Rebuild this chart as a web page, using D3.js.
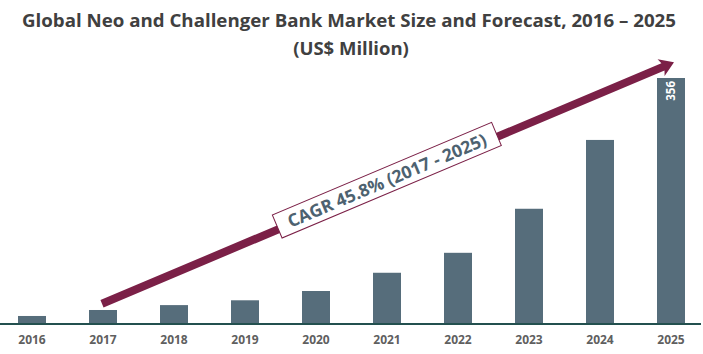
<!DOCTYPE html>
<html>
<head>
<meta charset="utf-8">
<script src="https://cdn.jsdelivr.net/npm/d3@7"></script>
<style>
  html, body { margin: 0; padding: 0; background: #fff; }
  svg { display: block; }
</style>
</head>
<body>
<div id="chart"></div>
<script>
// chart data
var years = ["2016", "2017", "2018", "2019", "2020", "2021", "2022", "2023", "2024", "2025"];
var values = [10.2, 18.9, 26, 33, 46.5, 73, 102, 166, 266, 356];
var labelled = ["2025"];           // bars carrying a value label
var cagrText = "CAGR 45.8% (2017 - 2025)";
var arrowFrom = ["2017", 28];      // [year, value] where the arrow starts
var arrowTo = ["2025", 379];       // [year, value] of the arrow tip

var width = 703, height = 354;

var svg = d3.select("#chart")
    .append("svg")
    .attr("width", width)
    .attr("height", height);

var x = d3.scaleBand()
    .domain(years)
    .range([-3.5, 706.5])
    .paddingInner(0.6056)
    .paddingOuter(0.3028);

var y = d3.scaleLinear()
    .domain([0, 356])
    .range([323, 78]);

// title
svg.append("text")
    .attr("x", 349)
    .attr("y", 27)
    .attr("text-anchor", "middle")
    .attr("textLength", 654)
    .attr("lengthAdjust", "spacingAndGlyphs")
    .style("font-family", "'Open Sans', sans-serif")
    .style("font-weight", 700)
    .style("font-size", "18.5px")
    .style("fill", "#404040")
    .text("Global Neo and Challenger Bank Market Size and Forecast, 2016 \u2013 2025");

svg.append("text")
    .attr("x", 351)
    .attr("y", 55)
    .attr("text-anchor", "middle")
    .style("font-family", "'Open Sans', sans-serif")
    .style("font-weight", 700)
    .style("font-size", "18.5px")
    .style("fill", "#404040")
    .text("(US$ Million)");

// bars
svg.append("g")
    .selectAll("rect")
    .data(years)
    .enter()
    .append("rect")
    .attr("x", function (d) { return x(d); })
    .attr("y", function (d, i) { return y(values[i]); })
    .attr("width", x.bandwidth())
    .attr("height", function (d, i) { return y(0) - y(values[i]); })
    .style("fill", "#566d7b");

// value label inside the last bar
svg.append("g")
    .selectAll("text")
    .data(years.filter(function (d) { return labelled.indexOf(d) >= 0; }))
    .enter()
    .append("text")
    .attr("transform", function (d) {
        var v = values[years.indexOf(d)];
        return "translate(" + (x(d) + x.bandwidth() / 2 + 4) + "," + (y(v) + 3) + ") rotate(-90)";
    })
    .attr("text-anchor", "end")
    .style("font-family", "'Open Sans', sans-serif")
    .style("font-weight", 700)
    .style("font-size", "11.5px")
    .style("fill", "#fff")
    .text(function (d) { return values[years.indexOf(d)]; });

// axis line and year labels
svg.append("line")
    .attr("x1", 0)
    .attr("x2", 701)
    .attr("y1", y(0) + 1)
    .attr("y2", y(0) + 1)
    .style("stroke", "#23504f")
    .style("stroke-width", 2.2);

svg.append("g")
    .selectAll("text")
    .data(years)
    .enter()
    .append("text")
    .attr("x", function (d) { return x(d) + x.bandwidth() / 2; })
    .attr("y", 344)
    .attr("text-anchor", "middle")
    .style("font-family", "'Open Sans', sans-serif")
    .style("font-weight", 700)
    .style("font-size", "12px")
    .style("fill", "#5f5f5f")
    .text(function (d) { return d; });

// CAGR arrow
var x0 = x(arrowFrom[0]) + x.bandwidth() / 2 - 1,
    y0 = y(arrowFrom[1]),
    x1 = x(arrowTo[0]) + x.bandwidth() / 2 + 3,
    y1 = y(arrowTo[1]);
var len = Math.sqrt((x1 - x0) * (x1 - x0) + (y1 - y0) * (y1 - y0));
var ang = Math.atan2(y1 - y0, x1 - x0) * 180 / Math.PI;

var arrow = svg.append("g")
    .attr("transform", "translate(" + x0 + "," + y0 + ") rotate(" + ang + ")");

arrow.append("path")
    .attr("d", "M0,-4 L" + (len - 12) + ",-4 L" + (len - 14) + ",-9 L" + len + ",0 L" +
        (len - 14) + ",9 L" + (len - 12) + ",4 L0,4 Z")
    .style("fill", "#7b2047");

// CAGR box along the arrow
var bx = len * 0.5;
var box = arrow.append("g")
    .attr("transform", "translate(" + bx + ",-3)");

box.append("rect")
    .attr("x", -119)
    .attr("y", -12.5)
    .attr("width", 238)
    .attr("height", 25)
    .style("fill", "#fff")
    .style("stroke", "#7b2047")
    .style("stroke-width", 1);

box.append("text")
    .attr("x", 0)
    .attr("y", 6.5)
    .attr("text-anchor", "middle")
    .style("font-family", "'Open Sans', sans-serif")
    .style("font-weight", 700)
    .style("font-size", "17.5px")
    .style("fill", "#4d6270")
    .text(cagrText);
</script>
</body>
</html>
